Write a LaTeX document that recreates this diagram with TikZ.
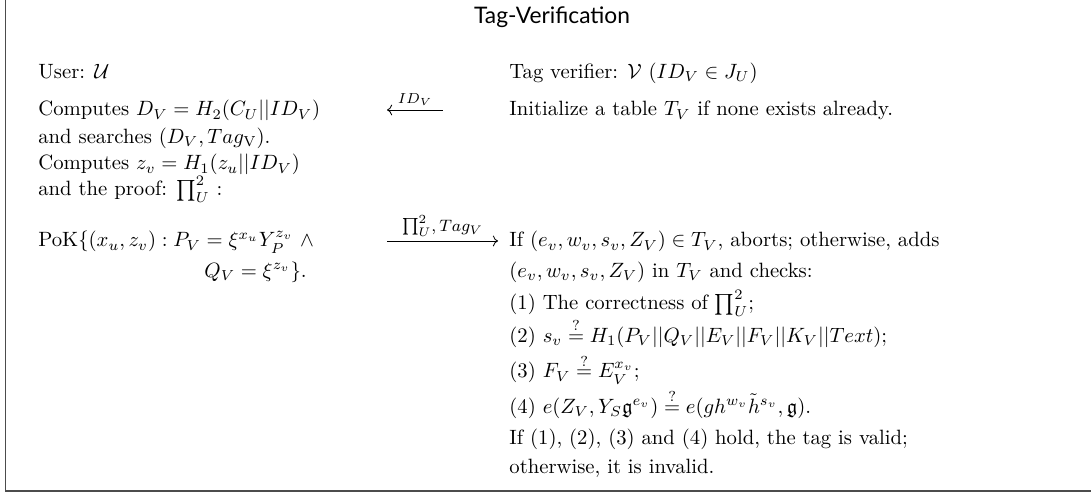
\documentclass[tikz,border=0pt]{standalone}
\usepackage{amsmath}
\usepackage{amssymb}
\usepackage{fontspec}
\newfontfamily\titlefont{Lato}
\usepackage{tikz}
\usetikzlibrary{arrows.meta,positioning}

\begin{document}
\begin{tikzpicture}[
  line/.style={inner sep=0pt,anchor=base west},
  msg/.style={-{Computer Modern Rightarrow},line width=0.4pt},
  lbl/.style={above=2pt,inner sep=0pt,font=\scriptsize},
]
  \useasboundingbox (0,0) rectangle (18.53,-8.41);
  \draw[line width=0.8pt,black!70] (0.093,-8.340) rectangle (19.2,0.5);
  \node[inner sep=0pt,anchor=base] (title) at (9.376,-0.391) {\titlefont\fontsize{11}{13}\selectfont Tag-Verification};

  \node[line] (user) at (0.645,-1.325) {User: $\mathcal{U}$};
  \node[line] (l1)   at (0.645,-1.970) {Computes $D_V=H_2(C_U||ID_V)$};
  \node[line] (l2)   at (0.645,-2.429) {and searches $(D_V,Tag_{\rm V})$.};
  \node[line] (l3)   at (0.645,-2.887) {Computes $z_v=H_1(z_u||ID_V)$};
  \node[line] (l4)   at (0.645,-3.329) {and the proof: $\prod_U^2$ :};
  \node[line] (pok1) at (0.645,-4.195) {PoK$\{(x_u,z_v):P_V=\xi^{x_u}Y_P^{z_v}\ \wedge$};
  \node[line] (pok2) at (3.465,-4.705) {$Q_V=\xi^{z_v}\}$.};

  \node[line] (verif) at (8.645,-1.325) {Tag verifier: $\mathcal{V}$ $(ID_V\in J_U)$};
  \node[line] (init)  at (8.645,-1.970) {Initialize a table $T_V$ if none exists already.};
  \node[line] (r1) at (8.645,-4.195) {If $(e_v,w_v,s_v,Z_V)\in T_V$, aborts; otherwise, adds};
  \node[line] (r2) at (8.645,-4.705) {$(e_v,w_v,s_v,Z_V)$ in $T_V$ and checks:};
  \node[line] (r3) at (8.645,-5.265) {(1) The correctness of $\prod_U^2$;};
  \node[line] (r4) at (8.645,-5.809) {(2) $s_v\stackrel{?}{=}H_1(P_V||Q_V||E_V||F_V||K_V||Text)$;};
  \node[line] (r5) at (8.645,-6.420) {(3) $F_V\stackrel{?}{=}E_V^{x_v}$;};
  \node[line] (r6) at (8.645,-7.015) {(4) $e(Z_V,Y_S\mathfrak{g}^{e_v})\stackrel{?}{=}e(gh^{w_v}\tilde{h}^{s_v},\mathfrak{g})$.};
  \node[line] (r7) at (8.645,-7.558) {If (1), (2), (3) and (4) hold, the tag is valid;};
  \node[line] (r8) at (8.645,-8.034) {otherwise, it is invalid.};

  \coordinate (a1) at (7.524,-1.868);
  \coordinate (a2) at (6.573,-1.868);
  \coordinate (b1) at (6.573,-4.093);
  \coordinate (b2) at (8.459,-4.093);
  \draw[msg] (a1) -- node[lbl] (idv) {$ID_V$} (a2);
  \draw[msg] (b1) -- node[lbl,font=\footnotesize] (prf) {$\prod_U^2,Tag_V$} (b2);
\end{tikzpicture}
\end{document}
